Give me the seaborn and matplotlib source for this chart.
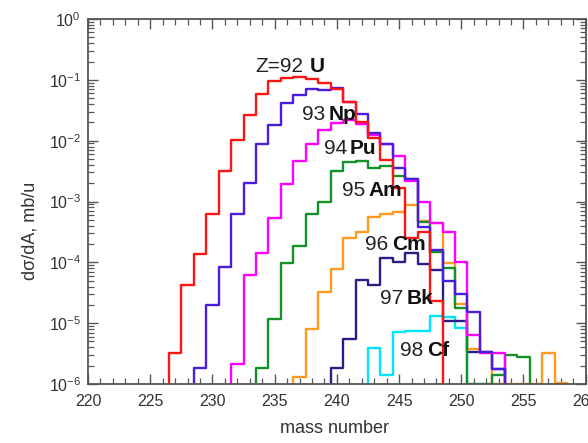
import numpy as np
import pandas as pd
import matplotlib
matplotlib.use("Agg")
import matplotlib.pyplot as plt
import seaborn as sns
from matplotlib.ticker import MultipleLocator, LogLocator, FuncFormatter, NullFormatter

# ---------------- data (cross sections per mass bin, mb/u) ----------------
u_first = 227
u_vals = [3.2e-6, 4.3e-5, 1.35e-4, 6.2e-4, 3.2e-3, 1.02e-2, 2.6e-2, 5.8e-2, 9.5e-2,
          0.108, 0.112, 0.105, 0.089, 0.072, 0.043, 0.020, 1.12e-2, 4.9e-3,
          1.66e-3, 2.5e-4, 3.2e-4, 2.3e-5]

np_first = 229
np_vals = [1.8e-6, 2.0e-5, 8.5e-5, 6.2e-4, 2.0e-3, 8.8e-3, 1.8e-2, 4.1e-2, 5.6e-2,
           7.1e-2, 6.9e-2, 7.3e-2, 4.4e-2, 2.7e-2, 1.33e-2, 8.9e-3, 3.5e-3, 2.3e-3,
           3.8e-4, 1.6e-4, 5.0e-5, 3.0e-5, 1.55e-5, 3.3e-6, 1.75e-6]

pu_first = 232
pu_vals = [2.1e-6, 6.2e-5, 1.45e-4, 5.4e-4, 1.95e-3, 4.7e-3, 8.9e-3, 1.5e-2, 1.95e-2,
           2.2e-2, 1.85e-2, 1.25e-2, 8.7e-3, 5.6e-3, 2.2e-3, 9.8e-4, 4.5e-4, 3.2e-4,
           1.0e-4, 6.5e-6, 3.2e-6, 3.2e-6]

am_first = 234
am_vals = [1.8e-6, 1.17e-5, 9.8e-5, 1.86e-4, 6.2e-4, 9.8e-4, 3.2e-3, 4.4e-3, 4.6e-3,
           3.5e-3, 3.9e-3, 2.6e-3, 2.3e-3, 4.6e-4, 1.5e-4, 8.1e-5, 1.8e-5, 1.0e-6,
           1.0e-6, 1.4e-6, 3.0e-6, 2.75e-6]

cm_first = 237
cm_vals = [1.3e-6, 7.9e-6, 3.2e-5, 7.8e-5, 2.5e-4, 3.2e-4, 5.6e-4, 6.3e-4, 6.8e-4,
           8.9e-4, 4.7e-4, 4.4e-4, 9.8e-5, 2.1e-5, 3.7e-6, 3.2e-6, 1.0e-6, 1.0e-6,
           1.0e-6, 1.0e-6, 3.2e-6, 1.02e-6]

bk_first = 240
bk_vals = [1.8e-6, 5.5e-6, 5.1e-5, 4.3e-5, 1.17e-4, 1.0e-4, 1.4e-4, 9.5e-5, 7.6e-5,
           1.07e-5, 1.1e-5, 3.4e-6, 3.3e-6, 1.75e-6]

cf_first = 243
cf_vals = [3.9e-6, 1.4e-6, 7.2e-6, 7.4e-6, 7.4e-6, 1.3e-5, 1.25e-5, 8.3e-6]

elements = ["U", "Np", "Pu", "Am", "Cm", "Bk", "Cf"]
numbers = ["Z=92", "93", "94", "95", "96", "97", "98"]
firsts = [u_first, np_first, pu_first, am_first, cm_first, bk_first, cf_first]
series = [u_vals, np_vals, pu_vals, am_vals, cm_vals, bk_vals, cf_vals]
colors = ["#ff1414", "#4b1be0", "#ff00ff", "#13922b", "#ff9a1f", "#2a1d86", "#00e6ff"]

x_ticks = [220, 225, 230, 235, 240, 245, 250, 255, 260]

FLOOR = 1e-9  # level below the axis used to close the histogram outline

# build long table (padding each histogram with an empty bin at both ends)
rows = []
for el, first, vals in zip(elements, firsts, series):
    masses = list(range(first - 1, first + len(vals) + 1))
    ys = [FLOOR] + list(vals) + [FLOOR]
    for m, y in zip(masses, ys):
        rows.append({"element": el, "mass": m, "xs": y})
df = pd.DataFrame(rows)

# ---------------- figure ----------------
sns.set_theme(style="white")
plt.rcParams["font.family"] = ["Liberation Sans", "DejaVu Sans"]
plt.rcParams["mathtext.default"] = "regular"

fig = plt.figure(figsize=(5.88, 4.43), dpi=100)
ax = fig.add_axes([88 / 588, 1 - 384 / 443, 497.7 / 588, 365 / 443])

draw_order = ["Cf", "Bk", "Cm", "Am", "Pu", "Np", "U"]
palette = dict(zip(elements, colors))
for el in draw_order:
    sns.lineplot(data=df[df["element"] == el], x="mass", y="xs", color=palette[el],
                 lw=1.7, drawstyle="steps-mid", estimator=None, ax=ax, legend=False)

ax.set_yscale("log")
ax.set_xlim(220, 260)
ax.set_ylim(1e-6, 1)

ax.set_xticks(x_ticks)
ax.set_xticklabels([str(t) for t in x_ticks])
ax.xaxis.set_minor_locator(MultipleLocator(1))
ax.yaxis.set_major_locator(LogLocator(base=10, numticks=12))
ax.yaxis.set_minor_locator(LogLocator(base=10, subs=np.arange(2, 10), numticks=12))
ax.yaxis.set_minor_formatter(NullFormatter())
ax.yaxis.set_major_formatter(FuncFormatter(
    lambda v, p: r"$\mathregular{10^{%d}}$" % int(round(np.log10(v)))))

ax.tick_params(which="both", direction="in", bottom=True, left=True, top=True, right=True,
               color="#555555", labelcolor="#333333", labelsize=11.5)
ax.tick_params(which="major", length=7, width=1.0)
ax.tick_params(which="minor", length=4, width=0.9)
ax.tick_params(axis="x", pad=7)
ax.tick_params(axis="y", pad=5)
for s in ax.spines.values():
    s.set_color("#555555")
    s.set_linewidth(1.3)

ax.set_xlabel("mass number", fontsize=13, color="#333333")
ax.xaxis.set_label_coords(0.496, -0.098)
ax.set_ylabel("d\u03c3/dA, mb/u", fontsize=13, color="#333333")
ax.yaxis.set_label_coords(-0.100, 0.42)

# element annotations: (right edge of number, left edge of symbol, vertical centre) in pixels
label_px = [(303, 310, 67), (325, 329, 115), (347, 350, 148), (365, 368, 191),
            (388, 392, 245), (403, 407, 298), (423, 427, 351)]
for num, el, (xr, xl, yc) in zip(numbers, elements, label_px):
    fy = (384 - yc) / 365
    ax.text((xr - 88) / 497.7, fy, num, transform=ax.transAxes, ha="right", va="center",
            fontsize=15, color="#222222")
    ax.text((xl - 88) / 497.7, fy, el, transform=ax.transAxes, ha="left", va="center",
            fontsize=15, fontweight="bold", color="#111111")

fig.savefig("out.png", dpi=100)
